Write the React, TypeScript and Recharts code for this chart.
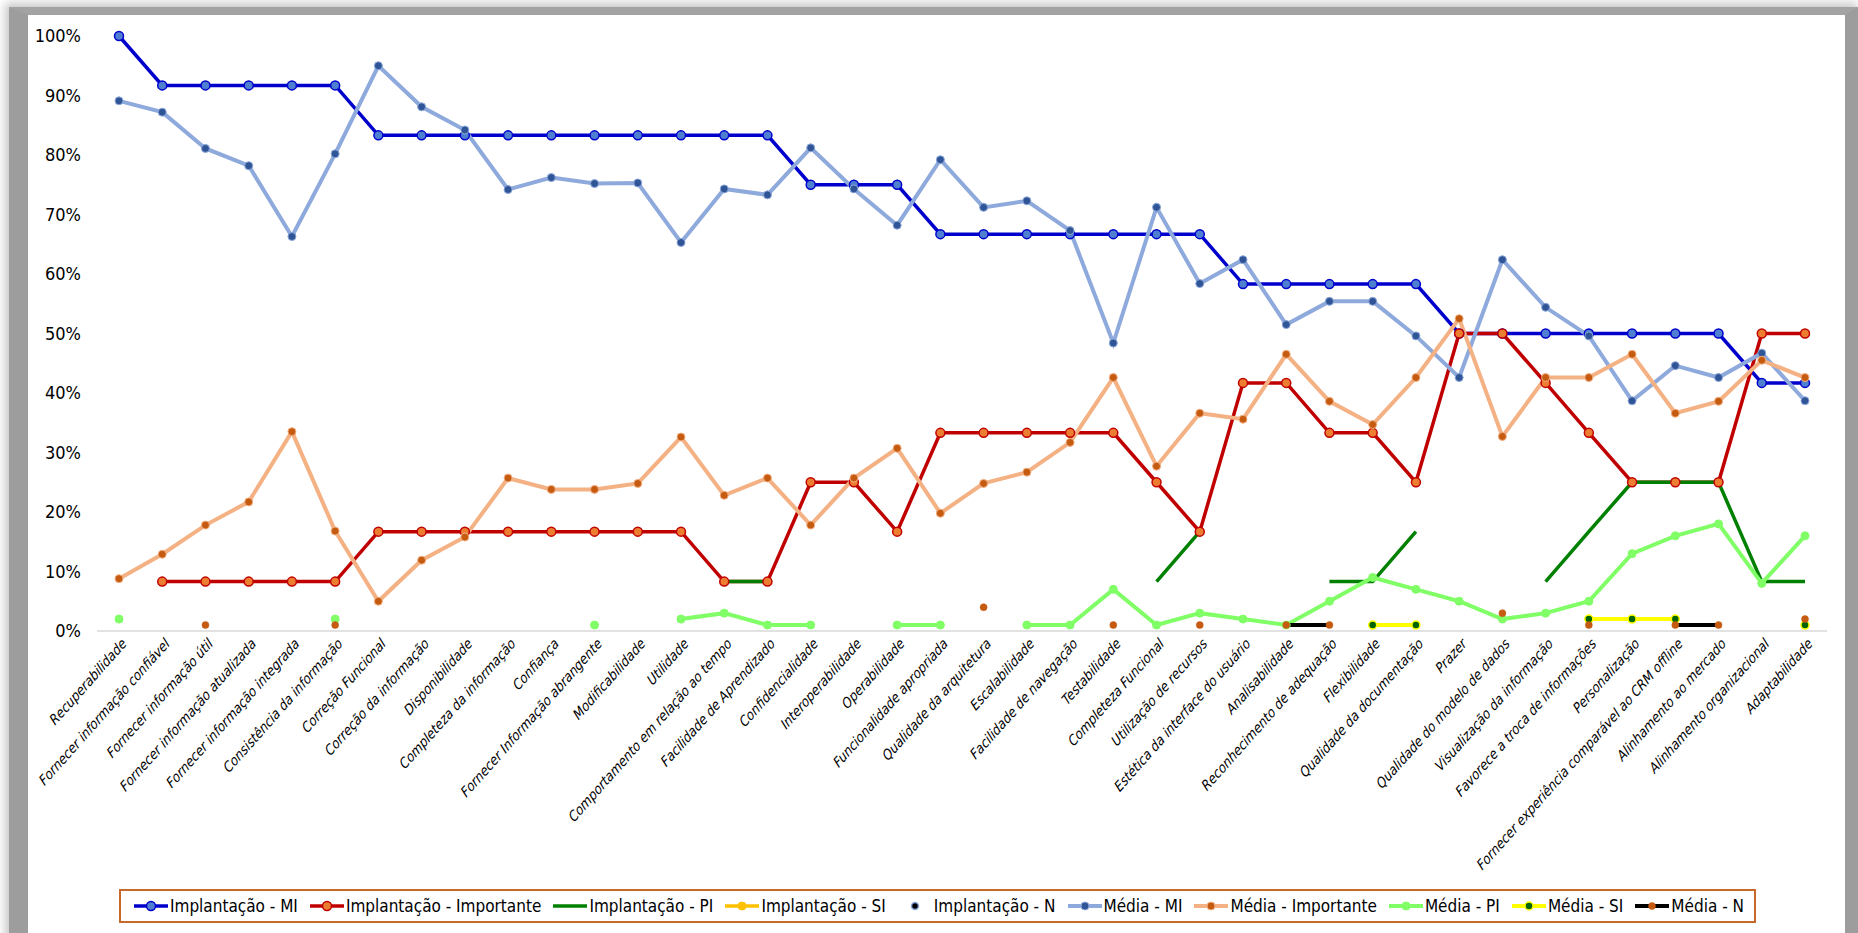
import React from "react";
import { LineChart, Line, XAxis, YAxis } from "recharts";

const FONTE =
  "'Liberation Sans Narrow', 'Arial Narrow', 'DejaVu Sans Condensed', 'Liberation Sans', sans-serif";

const categorias = [
  "Recuperabilidade",
  "Fornecer informação confiável",
  "Fornecer informação útil",
  "Fornecer informação atualizada",
  "Fornecer informação integrada",
  "Consistência da informação",
  "Correção Funcional",
  "Correção da informação",
  "Disponibilidade",
  "Completeza da informação",
  "Confiança",
  "Fornecer Informação abrangente",
  "Modificabilidade",
  "Utilidade",
  "Comportamento em relação ao tempo",
  "Facilidade de Aprendizado",
  "Confidencialidade",
  "Interoperabilidade",
  "Operabilidade",
  "Funcionalidade apropriada",
  "Qualidade da arquitetura",
  "Escalabilidade",
  "Facilidade de navegação",
  "Testabilidade",
  "Completeza Funcional",
  "Utilização de recursos",
  "Estética da interface do usuário",
  "Analisabilidade",
  "Reconhecimento de adequação",
  "Flexibilidade",
  "Qualidade da documentação",
  "Prazer",
  "Qualidade do modelo de dados",
  "Visualização da informação",
  "Favorece a troca de informações",
  "Personalização",
  "Fornecer experiência comparável ao CRM offline",
  "Alinhamento ao mercado",
  "Alinhamento organizacional",
  "Adaptabilidade",
];

type Valor = number | null;

// percentuais por requisito (null = sem resposta naquela categoria)
const implantacaoMI: Valor[] = [
  100, 91.7, 91.7, 91.7, 91.7, 91.7, 83.3, 83.3, 83.3, 83.3,
  83.3, 83.3, 83.3, 83.3, 83.3, 83.3, 75, 75, 75, 66.7,
  66.7, 66.7, 66.7, 66.7, 66.7, 66.7, 58.3, 58.3, 58.3, 58.3,
  58.3, 50, 50, 50, 50, 50, 50, 50, 41.7, 41.7,
];

const implantacaoImportante: Valor[] = [
  null, 8.3, 8.3, 8.3, 8.3, 8.3, 16.7, 16.7, 16.7, 16.7,
  16.7, 16.7, 16.7, 16.7, 8.3, 8.3, 25, 25, 16.7, 33.3,
  33.3, 33.3, 33.3, 33.3, 25, 16.7, 41.7, 41.7, 33.3, 33.3,
  25, 50, 50, 41.7, 33.3, 25, 25, 25, 50, 50,
];

const implantacaoPI: Valor[] = [
  null, null, null, null, null, null, null, null, null, null,
  null, null, null, null, 8.3, 8.3, null, null, null, null,
  null, null, null, null, 8.3, 16.7, null, null, 8.3, 8.3,
  16.7, null, null, 8.3, 16.7, 25, 25, 25, 8.3, 8.3,
];

const implantacaoSI: Valor[] = [];
const implantacaoN: Valor[] = [];

const mediaMI: Valor[] = [
  89.1, 87.2, 81.1, 78.2, 66.3, 80.2, 95, 88.1, 84.2, 74.2,
  76.2, 75.2, 75.3, 65.3, 74.3, 73.3, 81.2, 74.3, 68.2, 79.2,
  71.2, 72.3, 67.3, 48.4, 71.2, 58.4, 62.4, 51.5, 55.4, 55.4,
  49.6, 42.6, 62.4, 54.4, 49.6, 38.7, 44.6, 42.6, 46.7, 38.7,
];

const mediaImportante: Valor[] = [
  8.8, 12.9, 17.8, 21.7, 33.5, 16.8, 5, 11.9, 15.8, 25.7,
  23.8, 23.8, 24.8, 32.6, 22.8, 25.7, 17.8, 25.7, 30.7, 19.8,
  24.8, 26.7, 31.7, 42.6, 27.7, 36.6, 35.6, 46.5, 38.6, 34.7,
  42.6, 52.5, 32.7, 42.6, 42.6, 46.5, 36.6, 38.6, 45.5, 42.6,
];

const mediaPI: Valor[] = [
  2, null, null, null, null, 2, null, null, null, null,
  null, 1, null, 2, 3, 1, 1, null, 1, 1,
  null, 1, 1, 7, 1, 3, 2, 1, 5, 9,
  7, 5, 2, 3, 5, 13, 16, 18, 8, 16,
];

const mediaSI: Valor[] = [
  null, null, null, null, null, null, null, null, null, null,
  null, null, null, null, null, null, null, null, null, null,
  null, null, null, null, null, null, null, null, null, 1,
  1, null, null, null, 2, 2, 2, null, null, 1,
];

const mediaN: Valor[] = [
  null, null, 1, null, null, 1, null, null, null, null,
  null, null, null, null, null, null, null, null, null, null,
  4, null, null, 1, null, 1, null, 1, 1, null,
  null, null, 3, null, 1, null, 1, 1, null, 2,
];

const ticksY = [0, 10, 20, 30, 40, 50, 60, 70, 80, 90, 100];

type Marcador = { r: number; fill: string; stroke: string; strokeWidth: number };
type Serie = {
  chave: string;
  nome: string;
  valores: Valor[];
  cor: string | null;
  largura: number;
  marcador: Marcador | null;
};

const series: Serie[] = [
  {
    chave: "impMI",
    nome: "Implantação - MI",
    valores: implantacaoMI,
    cor: "#0000CC",
    largura: 3.5,
    marcador: { r: 4.5, fill: "#4F7FD0", stroke: "#0000CC", strokeWidth: 1.5 },
  },
  {
    chave: "impImp",
    nome: "Implantação - Importante",
    valores: implantacaoImportante,
    cor: "#C00000",
    largura: 3.5,
    marcador: { r: 4.5, fill: "#ED7D31", stroke: "#C00000", strokeWidth: 1.5 },
  },
  {
    chave: "impPI",
    nome: "Implantação - PI",
    valores: implantacaoPI,
    cor: "#008000",
    largura: 3.5,
    marcador: null,
  },
  {
    chave: "impSI",
    nome: "Implantação - SI",
    valores: implantacaoSI,
    cor: "#FFC000",
    largura: 3.5,
    marcador: { r: 4, fill: "#FFC000", stroke: "#FFC000", strokeWidth: 1 },
  },
  {
    chave: "impN",
    nome: "Implantação - N",
    valores: implantacaoN,
    cor: null,
    largura: 0,
    marcador: { r: 3.5, fill: "#000000", stroke: "#8EA9DB", strokeWidth: 1.5 },
  },
  {
    chave: "medMI",
    nome: "Média - MI",
    valores: mediaMI,
    cor: "#8EA9DB",
    largura: 4,
    marcador: { r: 4, fill: "#2F5597", stroke: "#8EA9DB", strokeWidth: 1 },
  },
  {
    chave: "medImp",
    nome: "Média - Importante",
    valores: mediaImportante,
    cor: "#F4B183",
    largura: 4,
    marcador: { r: 4, fill: "#C55A11", stroke: "#F4B183", strokeWidth: 1 },
  },
  {
    chave: "medPI",
    nome: "Média - PI",
    valores: mediaPI,
    cor: "#80FF66",
    largura: 4,
    marcador: { r: 4, fill: "#80FF66", stroke: "#80FF66", strokeWidth: 1 },
  },
  {
    chave: "medSI",
    nome: "Média - SI",
    valores: mediaSI,
    cor: "#FFFF00",
    largura: 4,
    marcador: { r: 4, fill: "#006400", stroke: "#FFFF00", strokeWidth: 1.5 },
  },
  {
    chave: "medN",
    nome: "Média - N",
    valores: mediaN,
    cor: "#000000",
    largura: 4,
    marcador: { r: 3.5, fill: "#C55A11", stroke: "#C55A11", strokeWidth: 0.5 },
  },
];

const dados = categorias.map((categoria, i) => {
  const linha: Record<string, string | Valor> = { categoria };
  series.forEach((s) => {
    linha[s.chave] = s.valores[i] ?? null;
  });
  return linha;
});

// rótulos inclinados; o texto é um pouco estreitado na horizontal
function RotuloX(props: any) {
  const { x, y, payload } = props;
  return (
    <g transform={`translate(${x + 5},${y + 2}) scale(0.89,1) rotate(-45)`}>
      <text
        textAnchor="end"
        dy="0.35em"
        fontStyle="italic"
        fontSize={14.6}
        fontFamily={FONTE}
        fill="#000"
      >
        {payload.value}
      </text>
    </g>
  );
}

function IconeLegenda({ s }: { s: Serie }) {
  return (
    <svg width={36} height={14} style={{ marginRight: 1, flex: "none" }}>
      {s.cor && (
        <line x1={1} y1={7} x2={35} y2={7} stroke={s.cor} strokeWidth={s.largura} />
      )}
      {s.marcador && (
        <circle
          cx={18}
          cy={7}
          r={s.marcador.r}
          fill={s.marcador.fill}
          stroke={s.marcador.stroke}
          strokeWidth={s.marcador.strokeWidth}
        />
      )}
    </svg>
  );
}

function Legenda() {
  return (
    <div
      style={{
        position: "absolute",
        left: 119,
        top: 889,
        width: 1637,
        height: 34,
        boxSizing: "border-box",
        border: "2px solid #C8692B",
        background: "#fff",
        display: "flex",
        alignItems: "center",
        justifyContent: "space-between",
        padding: "0 10px 0 12px",
        fontFamily: FONTE,
        fontSize: 17,
        color: "#000",
      }}
    >
      {series.map((s) => (
        <div key={s.chave} style={{ display: "flex", alignItems: "center" }}>
          <IconeLegenda s={s} />
          <span style={{ whiteSpace: "nowrap" }}>{s.nome}</span>
        </div>
      ))}
    </div>
  );
}

export default function App() {
  return (
    <div
      style={{
        position: "absolute",
        left: 0,
        top: 0,
        width: 1858,
        height: 933,
        overflow: "hidden",
        background: "#fff",
      }}
    >
      {/* moldura cinza com sombra */}
      <div
        style={{
          position: "absolute",
          left: 9,
          top: 7,
          width: 1849,
          height: 960,
          boxSizing: "border-box",
          borderLeft: "19px solid #9d9d9d",
          borderTop: "8px solid #a3a3a3",
          borderRight: "13px solid #9d9d9d",
          boxShadow: "-2px -2px 9px 2px rgba(0,0,0,0.22)",
          background: "#fff",
        }}
      />
      <div style={{ position: "absolute", left: 0, top: 0 }}>
        <LineChart
          width={1858}
          height={933}
          data={dados}
          margin={{ top: 36, right: 31, bottom: 0, left: 0 }}
        >
          <XAxis
            dataKey="categoria"
            interval={0}
            height={302}
            padding={{ left: 22, right: 22 }}
            tickLine={false}
            axisLine={{ stroke: "#D9D9D9", strokeWidth: 1.5 }}
            tick={<RotuloX />}
          />
          <YAxis
            width={97}
            domain={[0, 100]}
            ticks={ticksY}
            interval={0}
            tickFormatter={(v: number) => `${v}%`}
            axisLine={false}
            tickLine={false}
            tickMargin={10}
            tick={{ fontSize: 18, fill: "#000", fontFamily: FONTE }}
          />
          {series
            .filter((s) => s.cor)
            .map((s) => (
              <Line
                key={s.chave}
                dataKey={s.chave}
                name={s.nome}
                type="linear"
                stroke={s.cor as string}
                strokeWidth={s.largura}
                dot={s.marcador ? { ...s.marcador } : false}
                activeDot={false}
                connectNulls={false}
                isAnimationActive={false}
              />
            ))}
        </LineChart>
      </div>
      <Legenda />
    </div>
  );
}
